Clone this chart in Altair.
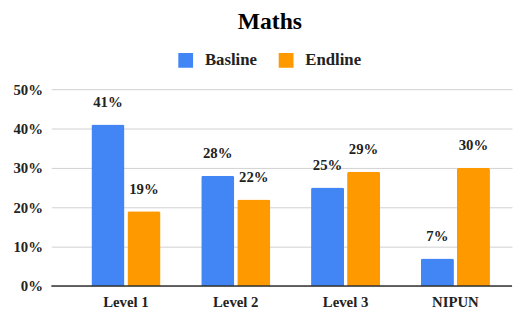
import altair as alt
import pandas as pd

categories = ["Level 1", "Level 2", "Level 3", "NIPUN"]
series = ["Basline", "Endline"]
basline = [0.41, 0.28, 0.25, 0.07]
endline = [0.19, 0.22, 0.29, 0.30]
ytick_values = [0, 0.1, 0.2, 0.3, 0.4, 0.5]

rows = []
for c, b, e in zip(categories, basline, endline):
    rows.append({"cat": c, "series": "Basline", "value": b})
    rows.append({"cat": c, "series": "Endline", "value": e})
df = pd.DataFrame(rows)

FONT = "serif"

x_axis = alt.Axis(labelAngle=0, labelFont=FONT, labelFontSize=15, labelFontWeight="bold",
                  labelColor="#222", ticks=False, domain=False, labelPadding=9)
x_scale = alt.Scale(paddingInner=0.371, paddingOuter=0.283, align=0.645)
y_axis = alt.Axis(format=".0%", values=ytick_values, labelOverlap=False,
                  labelFont=FONT, labelFontSize=15, labelFontWeight="bold",
                  labelColor="#222", ticks=False, domain=False, labelPadding=9,
                  gridColor="#d0d0d0")
y_scale = alt.Scale(domain=[0, 0.5])

x = alt.X("cat:N", sort=categories, title=None, scale=x_scale, axis=x_axis)
xo = alt.XOffset("series:N", sort=series, scale=alt.Scale(paddingInner=0.083))
y = alt.Y("value:Q", title=None, scale=y_scale, axis=y_axis)
color = alt.Color("series:N", sort=series,
                  scale=alt.Scale(domain=series, range=["#4285F4", "#FF9900"]),
                  legend=alt.Legend(title=None, orient="none", direction="horizontal",
                                    legendX=128, legendY=-38,
                                    labelFont=FONT, labelFontSize=17, labelFontWeight="bold",
                                    labelColor="#222", symbolType="square", symbolSize=225,
                                    symbolStrokeWidth=0, columnPadding=21, labelOffset=11))

base = alt.Chart(df)
bars = base.mark_bar(cornerRadiusTopLeft=2, cornerRadiusTopRight=2).encode(x=x, xOffset=xo, y=y, color=color)
labels = base.mark_text(font=FONT, fontSize=15, fontWeight="bold", color="#222", dy=-18,
                        baseline="alphabetic").encode(
    x=x, xOffset=xo, y=y, text=alt.Text("value:Q", format=".0%"))
zero = alt.Chart(pd.DataFrame({"value": [0]})).mark_rule(color="#333", strokeWidth=1.4).encode(y=y)

chart = alt.layer(bars, labels, zero).properties(
    width=468, height=200,
    title=alt.TitleParams("Maths", font=FONT, fontSize=24, fontWeight="bold", color="#000",
                          anchor="middle", offset=18, dx=-12),
    padding={"left": 5, "top": 0, "right": 0, "bottom": 5},
).configure_view(stroke=None)

chart.save("out.html", embed_options={"renderer": "svg", "actions": False})
